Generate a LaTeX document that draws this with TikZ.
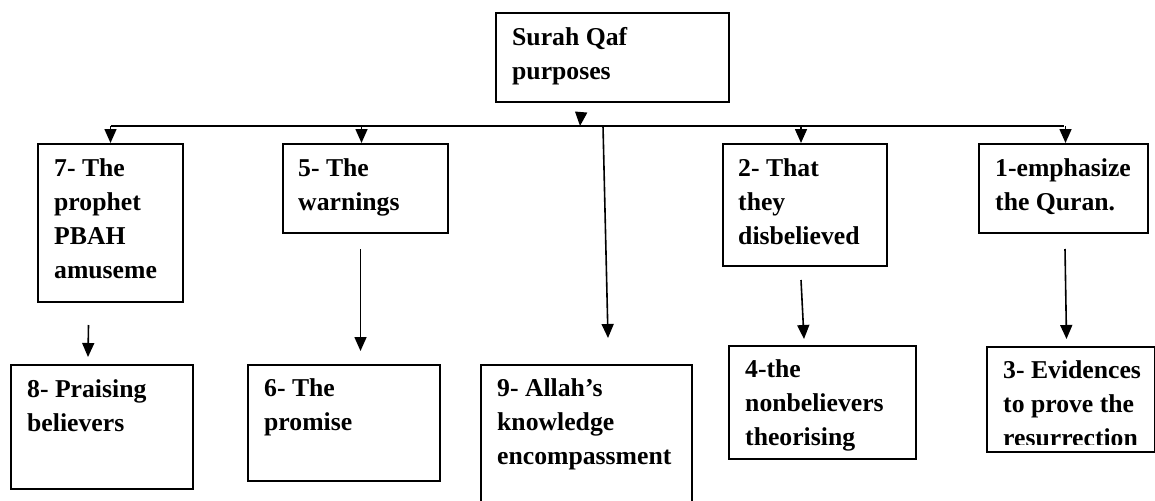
\documentclass[tikz,border=0pt]{standalone}
\usepackage{fontspec}
\setmainfont{Liberation Serif}
\usetikzlibrary{arrows.meta}

\begin{document}
\begin{tikzpicture}[
    x=1pt, y=-1pt,
    box/.style={draw=black, line width=2pt, rectangle, anchor=north west, inner sep=0pt},
    caption/.style={font=\fontsize{25.7pt}{34pt}\selectfont\bfseries, anchor=north west,
                    align=left, inner sep=0pt},
    link/.style={-{Triangle[length=14pt,width=12pt]}, line width=1.6pt, black},
    bus/.style={line width=1.8pt, black},
]
\clip (0,0) rectangle (1155,500);

\node[box, minimum width=233, minimum height=89]  (top) at (495,12)  {};
\node[box, minimum width=145, minimum height=158] (p7)  at (37,143)  {};
\node[box, minimum width=165, minimum height=89]  (p5)  at (282,143) {};
\node[box, minimum width=164, minimum height=122] (p2)  at (722,143) {};
\node[box, minimum width=169, minimum height=89]  (p1)  at (978,143) {};
\node[box, minimum width=182, minimum height=124] (p8)  at (10,364)  {};
\node[box, minimum width=192, minimum height=116] (p6)  at (247,364) {};
\node[box, minimum width=211, minimum height=150] (p9)  at (480,364) {};
\node[box, minimum width=187, minimum height=113] (p4)  at (728,345) {};
\node[box, minimum width=168, minimum height=105] (p3)  at (986,346) {};

% first baseline sits about 33pt below the box top
\node[caption] (ttop) at ([shift={(17,15)}]top.north west) {Surah Qaf\\purposes};
\node[caption] (t7) at ([shift={(17,15)}]p7.north west) {7- The\\prophet\\PBAH\\amuseme};
\node[caption] (t5) at ([shift={(16,15)}]p5.north west) {5- The\\warnings};
\node[caption] (t2) at ([shift={(16,15)}]p2.north west) {2- That\\they\\disbelieved};
\node[caption] (t1) at ([shift={(17,15)}]p1.north west) {1-emphasize\\the Quran.};
\node[caption] (t8) at ([shift={(17,15)}]p8.north west) {8- Praising\\believers};
\node[caption] (t6) at ([shift={(17,14)}]p6.north west) {6- The\\promise};
\node[caption] (t9) at ([shift={(17,14)}]p9.north west) {9- Allah’s\\knowledge\\encompassment};
\node[caption] (t4) at ([shift={(17,14)}]p4.north west) {4-the\\nonbelievers\\theorising};
% last line of this box is cut off at its bottom
\begin{scope}
  \clip (p3.north west) rectangle ([yshift=9pt]p3.south east);
  \node[caption] (t3) at ([shift={(17,14)}]p3.north west) {3- Evidences\\to prove the\\resurrection};
\end{scope}

\coordinate (fork) at (580,126);
\coordinate (drop) at (603,126);

\draw[link] ([xshift=-31.5pt,yshift=-11pt]top.south) -- (fork);
\draw[bus] (p7.north |- fork) -- (p1.north |- fork);
\draw[link] (p7.north |- fork) -- (p7.north);
\draw[link] ([xshift=-4pt]p5.north |- fork) -- ([xshift=-4pt]p5.north);
\draw[link] ([xshift=-4pt]p2.north |- fork) -- ([xshift=-4pt]p2.north);
\draw[link] ([xshift=2pt]p1.north |- fork) -- ([xshift=2pt]p1.north);
\draw[link] (drop) -- ([xshift=21.5pt,yshift=26pt]p9.north);

\draw[link] ([xshift=-22pt,yshift=-22pt]p7.south) -- ([xshift=-14pt,yshift=7pt]p8.north);
\draw[link] ([xshift=-5pt,yshift=-15pt]p5.south) -- ([xshift=16.5pt,yshift=13pt]p6.north);
\draw[link] ([xshift=-4pt,yshift=-13pt]p2.south) -- ([xshift=-18.5pt,yshift=6pt]p4.north);
\draw[link] ([xshift=1.5pt,yshift=-15pt]p1.south) -- ([xshift=-4.5pt,yshift=7pt]p3.north);
\end{tikzpicture}
\end{document}
